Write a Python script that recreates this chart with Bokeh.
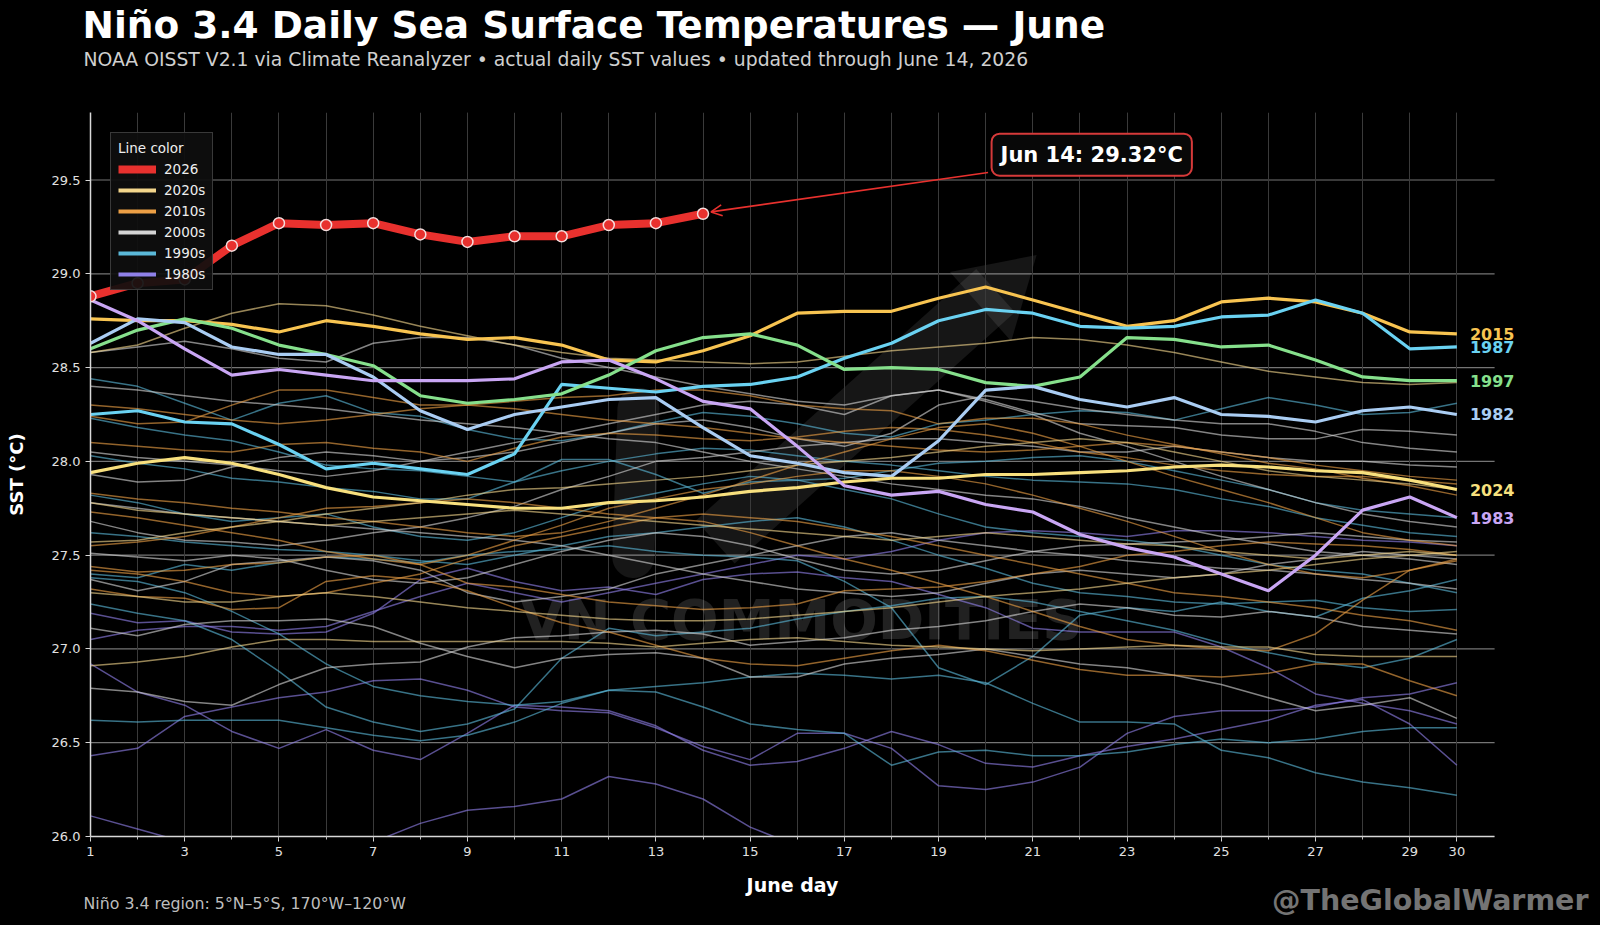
from bokeh.plotting import figure
from bokeh.layouts import column
from bokeh.models import (Range1d, FixedTicker, NumeralTickFormatter, Label, Arrow,
                          OpenHead, Legend, LegendItem, ColumnDataSource, Title)
from bokeh.embed import file_html
from bokeh.resources import INLINE
from bokeh.core.properties import value

FONT = "DejaVu Sans"

days = list(range(1, 31))
x_ticks = [1, 3, 5, 7, 9, 11, 13, 15, 17, 19, 21, 23, 25, 27, 29, 30]
y_ticks = [26.0, 26.5, 27.0, 27.5, 28.0, 28.5, 29.0, 29.5]

# ---- 2026 (through June 14) ----
sst_2026 = [28.88, 28.95, 28.97, 29.15, 29.27, 29.26, 29.27, 29.21, 29.17, 29.20,
            29.20, 29.26, 29.27, 29.32]

# ---- highlighted years ----
sst_2015 = [28.76, 28.75, 28.75, 28.73, 28.69, 28.75, 28.72, 28.68, 28.65, 28.66,
            28.62, 28.54, 28.53, 28.59, 28.67, 28.79, 28.80, 28.80, 28.87, 28.93,
            28.86, 28.79, 28.72, 28.75, 28.85, 28.87, 28.85, 28.79, 28.69, 28.68]
sst_1987 = [28.25, 28.27, 28.21, 28.20, 28.09, 27.96, 27.99, 27.96, 27.93, 28.04,
            28.41, 28.39, 28.37, 28.40, 28.41, 28.45, 28.55, 28.63, 28.75, 28.81,
            28.79, 28.72, 28.71, 28.72, 28.77, 28.78, 28.86, 28.79, 28.60, 28.61]
sst_1997 = [28.60, 28.70, 28.76, 28.71, 28.62, 28.57, 28.51, 28.35, 28.31, 28.33,
            28.36, 28.46, 28.59, 28.66, 28.68, 28.62, 28.49, 28.50, 28.49, 28.42,
            28.40, 28.45, 28.66, 28.65, 28.61, 28.62, 28.54, 28.45, 28.43, 28.43]
sst_1982 = [28.63, 28.76, 28.74, 28.61, 28.57, 28.57, 28.45, 28.27, 28.17, 28.25,
            28.29, 28.33, 28.34, 28.18, 28.03, 27.99, 27.94, 27.92, 28.11, 28.38,
            28.40, 28.33, 28.29, 28.34, 28.25, 28.24, 28.21, 28.27, 28.29, 28.25]
sst_2024 = [27.94, 27.99, 28.02, 27.99, 27.93, 27.86, 27.81, 27.79, 27.77, 27.75,
            27.75, 27.78, 27.79, 27.81, 27.84, 27.86, 27.89, 27.91, 27.91, 27.93,
            27.93, 27.94, 27.95, 27.97, 27.98, 27.97, 27.95, 27.94, 27.90, 27.85]
sst_1983 = [28.86, 28.75, 28.60, 28.46, 28.49, 28.46, 28.43, 28.43, 28.43, 28.44,
            28.53, 28.54, 28.44, 28.32, 28.28, 28.08, 27.87, 27.82, 27.84, 27.77,
            27.73, 27.61, 27.54, 27.49, 27.40, 27.31, 27.50, 27.74, 27.81, 27.70]

highlight_years = ["2015", "1987", "1997", "1982", "2024", "1983"]
highlight_colors = ["#f8c451", "#6ad2f2", "#86e08c", "#aacdf3", "#f8e07e", "#c9a6f4"]

# ---- background years ----
sst_1984 = [27.05, 27.10, 27.12, 27.12, 27.10, 27.12, 27.20, 27.28, 27.35, 27.30,
            27.25, 27.30, 27.35, 27.40, 27.45, 27.50, 27.48, 27.52, 27.58, 27.62,
            27.63, 27.62, 27.60, 27.63, 27.63, 27.62, 27.60, 27.58, 27.57, 27.55]
sst_1985 = [26.11, 26.04, 25.97, 25.92, 25.88, 25.90, 25.97, 26.07, 26.14, 26.16,
            26.20, 26.32, 26.28, 26.20, 26.05, 25.95, 25.88, 25.85, 25.84, 25.82,
            25.80, 25.80, 25.82, 25.83, 25.85, 25.84, 25.83, 25.82, 25.80, 25.80]
sst_1986 = [27.19, 27.14, 27.15, 27.09, 27.08, 27.09, 27.19, 27.37, 27.43, 27.36,
            27.31, 27.33, 27.29, 27.37, 27.40, 27.41, 27.38, 27.36, 27.29, 27.22,
            27.11, 27.09, 27.09, 27.09, 27.01, 26.90, 26.76, 26.71, 26.67, 26.60]
sst_1988 = [26.92, 26.77, 26.70, 26.56, 26.47, 26.57, 26.46, 26.41, 26.55, 26.70,
            26.69, 26.67, 26.59, 26.46, 26.38, 26.40, 26.47, 26.56, 26.49, 26.39,
            26.37, 26.43, 26.48, 26.52, 26.57, 26.62, 26.70, 26.73, 26.60, 26.38]
sst_1989 = [26.43, 26.47, 26.64, 26.69, 26.74, 26.77, 26.83, 26.84, 26.78, 26.69,
            26.67, 26.66, 26.58, 26.48, 26.41, 26.55, 26.55, 26.47, 26.27, 26.25,
            26.29, 26.37, 26.55, 26.64, 26.67, 26.67, 26.69, 26.74, 26.76, 26.82]

sst_1990 = [27.62, 27.60, 27.57, 27.55, 27.53, 27.52, 27.50, 27.47, 27.45, 27.50,
            27.55, 27.60, 27.62, 27.65, 27.68, 27.70, 27.65, 27.58, 27.50, 27.43,
            27.35, 27.30, 27.28, 27.25, 27.24, 27.25, 27.26, 27.22, 27.20, 27.21]
sst_1991 = [27.38, 27.36, 27.30, 27.20, 27.08, 26.92, 26.80, 26.75, 26.72, 26.70,
            26.72, 26.78, 26.80, 26.82, 26.85, 26.87, 26.86, 26.84, 26.86, 26.82,
            26.71, 26.61, 26.61, 26.60, 26.46, 26.42, 26.34, 26.29, 26.26, 26.22]
sst_1992 = [28.03, 27.99, 27.96, 27.91, 27.89, 27.86, 27.84, 27.80, 27.80, 27.89,
            27.95, 28.00, 28.04, 28.07, 28.06, 28.03, 28.00, 27.98, 27.95, 27.92,
            27.90, 27.89, 27.88, 27.85, 27.80, 27.76, 27.70, 27.66, 27.62, 27.60]
sst_1993 = [27.24, 27.19, 27.15, 27.05, 26.88, 26.69, 26.61, 26.56, 26.60, 26.68,
            26.95, 27.11, 27.07, 27.09, 27.11, 27.16, 27.20, 27.23, 27.27, 27.28,
            27.25, 27.20, 27.15, 27.10, 27.03, 26.98, 26.93, 26.90, 26.95, 27.05]
sst_1994 = [27.82, 27.78, 27.72, 27.68, 27.70, 27.72, 27.65, 27.60, 27.58, 27.62,
            27.70, 27.78, 27.83, 27.88, 27.92, 27.90, 27.85, 27.80, 27.72, 27.65,
            27.62, 27.60, 27.58, 27.55, 27.50, 27.45, 27.42, 27.40, 27.35, 27.30]
sst_1995 = [26.62, 26.61, 26.62, 26.62, 26.62, 26.58, 26.54, 26.51, 26.54, 26.61,
            26.71, 26.78, 26.77, 26.69, 26.60, 26.57, 26.55, 26.38, 26.45, 26.46,
            26.43, 26.43, 26.45, 26.49, 26.52, 26.50, 26.52, 26.56, 26.58, 26.58]
sst_1996 = [27.40, 27.38, 27.45, 27.42, 27.46, 27.49, 27.48, 27.46, 27.50, 27.52,
            27.53, 27.55, 27.52, 27.50, 27.49, 27.47, 27.36, 27.22, 26.90, 26.81,
            26.96, 27.18, 27.22, 27.20, 27.25, 27.20, 27.17, 27.27, 27.31, 27.37]
sst_1998 = [28.44, 28.40, 28.31, 28.22, 28.31, 28.35, 28.26, 28.24, 28.17, 28.12,
            28.11, 28.15, 28.21, 28.26, 28.24, 28.20, 28.15, 28.13, 28.20, 28.22,
            28.25, 28.27, 28.26, 28.22, 28.28, 28.34, 28.30, 28.25, 28.26, 28.31]
sst_1999 = [28.23, 28.18, 28.14, 28.11, 28.05, 27.98, 27.96, 27.95, 27.92, 27.89,
            28.01, 28.01, 27.93, 27.83, 27.89, 27.90, 27.91, 27.95, 27.99, 28.00,
            28.02, 28.03, 28.00, 27.95, 27.90, 27.85, 27.78, 27.74, 27.72, 27.70]

sst_2000 = [27.11, 27.07, 27.13, 27.15, 27.15, 27.16, 27.12, 27.03, 26.96, 26.90,
            26.95, 26.97, 26.98, 26.95, 26.85, 26.85, 26.92, 26.95, 26.97, 27.00,
            26.96, 26.92, 26.90, 26.86, 26.81, 26.74, 26.67, 26.70, 26.74, 26.63]
sst_2001 = [26.79, 26.77, 26.72, 26.70, 26.81, 26.90, 26.92, 26.93, 27.01, 27.06,
            27.07, 27.09, 27.10, 27.08, 27.02, 27.04, 27.06, 27.10, 27.12, 27.15,
            27.20, 27.24, 27.22, 27.18, 27.17, 27.20, 27.17, 27.12, 27.10, 27.08]
sst_2002 = [28.58, 28.61, 28.64, 28.60, 28.55, 28.53, 28.63, 28.66, 28.66, 28.62,
            28.55, 28.50, 28.45, 28.40, 28.36, 28.32, 28.30, 28.35, 28.38, 28.33,
            28.26, 28.20, 28.19, 28.18, 28.14, 28.12, 28.12, 28.17, 28.16, 28.14]
sst_2003 = [27.37, 27.31, 27.36, 27.45, 27.47, 27.49, 27.47, 27.42, 27.30, 27.25,
            27.28, 27.32, 27.40, 27.45, 27.50, 27.55, 27.60, 27.62, 27.58, 27.55,
            27.52, 27.50, 27.47, 27.45, 27.43, 27.42, 27.40, 27.37, 27.35, 27.32]
sst_2004 = [28.40, 28.38, 28.35, 28.32, 28.30, 28.28, 28.25, 28.22, 28.20, 28.18,
            28.15, 28.12, 28.10, 28.05, 28.00, 27.96, 27.92, 27.88, 27.85, 27.82,
            27.80, 27.76, 27.70, 27.65, 27.60, 27.56, 27.52, 27.50, 27.48, 27.45]
sst_2005 = [27.68, 27.62, 27.58, 27.57, 27.55, 27.58, 27.62, 27.65, 27.70, 27.76,
            27.85, 27.92, 28.00, 28.02, 28.05, 28.08, 28.10, 28.12, 28.12, 28.10,
            28.08, 28.05, 28.05, 28.08, 28.05, 28.02, 28.00, 28.00, 27.98, 27.97]
sst_2006 = [27.51, 27.49, 27.47, 27.50, 27.48, 27.42, 27.37, 27.35, 27.38, 27.45,
            27.52, 27.58, 27.62, 27.60, 27.55, 27.48, 27.42, 27.40, 27.42, 27.47,
            27.52, 27.55, 27.56, 27.57, 27.58, 27.60, 27.62, 27.60, 27.58, 27.57]
sst_2007 = [27.78, 27.75, 27.72, 27.70, 27.68, 27.66, 27.64, 27.62, 27.60, 27.58,
            27.55, 27.50, 27.45, 27.40, 27.36, 27.32, 27.30, 27.28, 27.30, 27.35,
            27.40, 27.42, 27.40, 27.38, 27.40, 27.45, 27.48, 27.52, 27.50, 27.48]
sst_2008 = [27.93, 27.89, 27.90, 27.97, 28.02, 28.05, 28.03, 28.00, 28.02, 28.05,
            28.10, 28.15, 28.20, 28.22, 28.18, 28.12, 28.08, 28.15, 28.30, 28.35,
            28.32, 28.28, 28.25, 28.22, 28.20, 28.20, 28.16, 28.10, 28.07, 28.05]
sst_2009 = [28.05, 28.02, 28.00, 27.98, 27.95, 27.92, 27.95, 28.00, 28.05, 28.10,
            28.15, 28.20, 28.25, 28.30, 28.32, 28.30, 28.25, 28.35, 28.38, 28.32,
            28.25, 28.15, 28.08, 28.00, 27.92, 27.85, 27.78, 27.72, 27.68, 27.65]

sst_2010 = [28.10, 28.08, 28.06, 28.05, 28.09, 28.10, 28.07, 28.05, 28.00, 28.07,
            28.13, 28.15, 28.14, 28.12, 28.11, 28.13, 28.16, 28.18, 28.17, 28.14,
            28.10, 28.05, 28.02, 27.98, 27.95, 27.93, 27.92, 27.92, 27.90, 27.88]
sst_2011 = [27.32, 27.28, 27.27, 27.21, 27.22, 27.36, 27.39, 27.37, 27.31, 27.22,
            27.14, 27.09, 27.02, 26.95, 26.92, 26.91, 26.95, 26.99, 27.02, 26.99,
            26.94, 26.89, 26.86, 26.86, 26.85, 26.87, 26.92, 26.92, 26.83, 26.75]
sst_2012 = [27.83, 27.80, 27.78, 27.75, 27.73, 27.70, 27.68, 27.65, 27.62, 27.60,
            27.62, 27.68, 27.75, 27.82, 27.90, 27.98, 28.05, 28.12, 28.18, 28.20,
            28.15, 28.08, 28.00, 27.92, 27.85, 27.78, 27.70, 27.62, 27.58, 27.55]
sst_2013 = [27.44, 27.41, 27.42, 27.45, 27.46, 27.49, 27.50, 27.45, 27.35, 27.33,
            27.29, 27.25, 27.23, 27.21, 27.22, 27.24, 27.31, 27.32, 27.33, 27.36,
            27.40, 27.44, 27.50, 27.52, 27.55, 27.57, 27.56, 27.55, 27.53, 27.50]
sst_2014 = [28.24, 28.20, 28.21, 28.30, 28.38, 28.38, 28.34, 28.30, 28.30, 28.32,
            28.34, 28.35, 28.38, 28.38, 28.35, 28.30, 28.28, 28.27, 28.20, 28.23,
            28.23, 28.20, 28.14, 28.09, 28.04, 27.99, 27.96, 27.91, 27.87, 27.82]
sst_2016 = [27.73, 27.70, 27.66, 27.62, 27.58, 27.52, 27.48, 27.45, 27.50, 27.58,
            27.66, 27.75, 27.80, 27.85, 27.88, 27.92, 27.95, 27.95, 27.92, 27.88,
            27.82, 27.75, 27.68, 27.60, 27.52, 27.45, 27.40, 27.38, 27.42, 27.48]
sst_2017 = [27.55, 27.57, 27.60, 27.65, 27.70, 27.75, 27.76, 27.78, 27.80, 27.78,
            27.75, 27.72, 27.70, 27.68, 27.62, 27.55, 27.48, 27.42, 27.35, 27.28,
            27.20, 27.12, 27.05, 27.02, 27.00, 26.99, 27.08, 27.26, 27.42, 27.47]
sst_2018 = [27.42, 27.40, 27.36, 27.30, 27.28, 27.30, 27.35, 27.40, 27.48, 27.55,
            27.60, 27.65, 27.70, 27.72, 27.70, 27.68, 27.64, 27.60, 27.55, 27.50,
            27.45, 27.40, 27.35, 27.30, 27.28, 27.25, 27.22, 27.18, 27.15, 27.10]
sst_2019 = [28.30, 28.28, 28.25, 28.22, 28.20, 28.22, 28.25, 28.28, 28.30, 28.28,
            28.25, 28.22, 28.20, 28.18, 28.15, 28.12, 28.10, 28.08, 28.06, 28.05,
            28.06, 28.08, 28.10, 28.08, 28.05, 28.02, 27.98, 27.95, 27.92, 27.90]

sst_2020 = [27.57, 27.58, 27.62, 27.65, 27.68, 27.72, 27.75, 27.78, 27.82, 27.85,
            27.86, 27.88, 27.90, 27.92, 27.95, 27.98, 28.00, 28.02, 28.05, 28.08,
            28.10, 28.12, 28.10, 28.05, 28.00, 27.95, 27.92, 27.90, 27.88, 27.85]
sst_2021 = [26.91, 26.93, 26.96, 27.01, 27.05, 27.05, 27.04, 27.04, 27.04, 27.04,
            27.04, 27.03, 27.01, 27.03, 27.05, 27.06, 27.04, 27.02, 27.01, 27.00,
            26.99, 27.00, 27.01, 27.02, 27.01, 27.01, 26.97, 26.96, 26.96, 26.96]
sst_2022 = [27.30, 27.28, 27.25, 27.25, 27.28, 27.30, 27.28, 27.25, 27.22, 27.20,
            27.18, 27.16, 27.15, 27.15, 27.16, 27.18, 27.20, 27.22, 27.25, 27.28,
            27.30, 27.32, 27.35, 27.38, 27.40, 27.42, 27.45, 27.48, 27.50, 27.52]
sst_2023 = [28.58, 28.62, 28.71, 28.79, 28.84, 28.83, 28.78, 28.72, 28.67, 28.62,
            28.58, 28.55, 28.54, 28.53, 28.52, 28.53, 28.56, 28.59, 28.61, 28.63,
            28.66, 28.65, 28.62, 28.58, 28.53, 28.48, 28.45, 28.42, 28.41, 28.42]
sst_2025 = [27.78, 27.74, 27.72, 27.70, 27.68, 27.66, 27.68, 27.70, 27.72, 27.74,
            27.72, 27.70, 27.68, 27.66, 27.64, 27.62, 27.60, 27.58, 27.60, 27.62,
            27.60, 27.58, 27.56, 27.55, 27.52, 27.50, 27.48, 27.50, 27.52, 27.50]

background = [
    (1984, sst_1984), (1985, sst_1985), (1986, sst_1986), (1988, sst_1988), (1989, sst_1989),
    (1990, sst_1990), (1991, sst_1991), (1992, sst_1992), (1993, sst_1993), (1994, sst_1994),
    (1995, sst_1995), (1996, sst_1996), (1998, sst_1998), (1999, sst_1999),
    (2000, sst_2000), (2001, sst_2001), (2002, sst_2002), (2003, sst_2003), (2004, sst_2004),
    (2005, sst_2005), (2006, sst_2006), (2007, sst_2007), (2008, sst_2008), (2009, sst_2009),
    (2010, sst_2010), (2011, sst_2011), (2012, sst_2012), (2013, sst_2013), (2014, sst_2014),
    (2016, sst_2016), (2017, sst_2017), (2018, sst_2018), (2019, sst_2019),
    (2020, sst_2020), (2021, sst_2021), (2022, sst_2022), (2023, sst_2023), (2025, sst_2025),
]
highlights = [sst_2015, sst_1987, sst_1997, sst_1982, sst_2024, sst_1983]

decades = ["2020s", "2010s", "2000s", "1990s", "1980s"]
decade_colors = ["#f3d68c", "#ec9f45", "#d4d4d4", "#5ab8d8", "#8f80e8"]
color_of = dict(zip(decades, decade_colors))

RED = "#e8312e"
X_END = 31.35        # frame end (room for the end labels)
GRID_END = 30.8      # where grid lines / x axis line stop

W, H_MAIN, H_FOOT = 1600, 866, 59
BORDER_L, BORDER_R = 90, 80

p = figure(width=W, height=H_MAIN, x_range=Range1d(1, X_END), y_range=Range1d(26.0, 29.86),
           output_backend="svg", toolbar_location=None, title=None,
           background_fill_color="black", border_fill_color="black",
           min_border_left=BORDER_L, min_border_right=BORDER_R, min_border_top=112,
           min_border_bottom=30, outline_line_color=None)
p.frame_align = False

# grids
p.ygrid.grid_line_color = None
p.segment(x0=[days[0]] * len(y_ticks), y0=y_ticks, x1=[GRID_END] * len(y_ticks), y1=y_ticks,
          line_color="#8a8a8a", line_width=1.2, line_alpha=0.85, level="underlay")
p.xgrid.grid_line_color = "#3a3a3a"
p.xgrid.minor_grid_line_color = "#3a3a3a"
p.xgrid.grid_line_width = 1

# axes
p.xaxis.ticker = FixedTicker(ticks=x_ticks, minor_ticks=days)
p.xaxis.bounds = (days[0], GRID_END)
p.yaxis.ticker = FixedTicker(ticks=y_ticks)
p.yaxis.formatter = NumeralTickFormatter(format="0.0")
for ax in (p.xaxis[0], p.yaxis[0]):
    ax.axis_line_color = "#d8d8d8"
    ax.axis_line_width = 1.5
    ax.major_tick_line_color = "#d8d8d8"
    ax.major_tick_out = 5
    ax.major_tick_in = 0
    ax.minor_tick_line_color = "#bbbbbb"
    ax.minor_tick_out = 3
    ax.minor_tick_in = 0
    ax.major_label_text_color = "#e0e0e0"
    ax.major_label_text_font = FONT
    ax.major_label_text_font_size = "13px"
    ax.axis_label_text_color = "white"
    ax.axis_label_text_font = FONT
    ax.axis_label_text_font_style = "bold"
    ax.axis_label_text_font_size = "18px"
p.yaxis.minor_tick_line_color = None
p.yaxis.axis_label = "SST (°C)"
p.yaxis.axis_label_standoff = 22

# titles, stacked upward from the frame: spacer, subtitle, title
p.add_layout(Title(text=" ", text_font=FONT, text_font_size="10px", text_color="black",
                   standoff=30), "above")
p.add_layout(Title(text="NOAA OISST V2.1 via Climate Reanalyzer • actual daily SST values • updated through June 14, 2026",
                   text_font=FONT, text_font_size="18.8px", text_font_style="normal",
                   text_color="#cfcfcf", align="left", offset=-7, standoff=0), "above")
p.add_layout(Title(text="Niño 3.4 Daily Sea Surface Temperatures — June",
                   text_font=FONT, text_font_size="37.5px", text_font_style="bold",
                   text_color="white", align="left", offset=-8, standoff=0), "above")

# watermark logo + text (faint decoration behind the lines)
LOGO_ALPHA = 0.085
p.line([14.26, 20.21], [27.57, 28.91], line_color="white", line_alpha=LOGO_ALPHA,
       line_width=58, level="underlay")
p.patch([21.08, 20.54, 19.24], [29.10, 28.64, 29.01], fill_color="white",
        fill_alpha=LOGO_ALPHA, line_color=None, level="underlay")
p.line([12.52, 12.63], [27.49, 28.28], line_color="white", line_alpha=LOGO_ALPHA,
       line_width=42, line_cap="round", level="underlay")
p.add_layout(Label(x=711, y=217, x_units="screen", y_units="screen", text="VN COMMODITIES",
                   text_font=FONT, text_font_size="56px", text_font_style="bold",
                   text_color="#ffffff", text_alpha=0.13, text_align="center",
                   text_baseline="middle", level="underlay"))

# background years
for year, vals in background:
    dec = f"{year // 10 * 10}s"
    p.line(days, vals, line_color=color_of[dec], line_width=1.5, line_alpha=0.62)

# highlighted years
for yr, vals, col in zip(highlight_years, highlights, highlight_colors):
    p.line(days, vals, line_color=col, line_width=3.2, line_alpha=1.0)

end_src = ColumnDataSource(dict(x=[days[-1]] * len(highlights),
                                y=[v[-1] for v in highlights],
                                label=highlight_years, color=highlight_colors))
p.text(x="x", y="y", text="label", text_color="color", source=end_src, x_offset=13,
       text_font=value(FONT), text_font_size="16px", text_font_style="bold",
       text_baseline="middle", text_align="left")

# 2026
days_2026 = days[:len(sst_2026)]
r2026 = p.line(days_2026, sst_2026, line_color=RED, line_width=8, line_join="round")
p.scatter(days_2026, sst_2026, size=11, fill_color=RED, line_color="#f4dede", line_width=1.5)

last_day, last_val = days_2026[-1], sst_2026[-1]
p.add_layout(Arrow(end=OpenHead(size=11, line_color=RED, line_width=1.6),
                   x_start=20.05, y_start=29.54, x_end=last_day + 0.17, y_end=last_val + 0.01,
                   line_color=RED, line_width=1.6))
p.add_layout(Label(x=22.25, y=29.635, text=f"Jun {last_day}: {last_val:.2f}°C",
                   text_font=FONT, text_font_size="21px", text_font_style="bold",
                   text_color="white", text_align="center", text_baseline="middle",
                   background_fill_color="#080808", background_fill_alpha=1.0,
                   border_line_color="#d63a3a", border_line_width=2,
                   padding=9, border_radius=8))

# legend (decade swatches use off-range dummy lines)
items = [LegendItem(label="2026", renderers=[r2026])]
for dec, col in zip(decades, decade_colors):
    r = p.line(days[:2], [0.0, 0.0], line_color=col, line_width=4)
    items.append(LegendItem(label=dec, renderers=[r]))
legend = Legend(items=items, location="top_left", title="Line color")
legend.margin = 20
legend.padding = 7
legend.spacing = 5
legend.label_height = 16
legend.glyph_height = 16
legend.glyph_width = 38
legend.label_standoff = 8
legend.label_text_font = FONT
legend.label_text_font_size = "13.5px"
legend.label_text_color = "#eeeeee"
legend.title_text_font = FONT
legend.title_text_font_size = "13.5px"
legend.title_text_font_style = "normal"
legend.title_text_color = "#eeeeee"
legend.title_standoff = 5
legend.background_fill_color = "#0e0e0e"
legend.background_fill_alpha = 0.92
legend.border_line_color = "#666666"
legend.border_line_width = 1
p.add_layout(legend)

# ---- footer strip: x-axis title, region note, handle ----
foot = figure(width=W, height=H_FOOT, x_range=Range1d(0, W), y_range=Range1d(0, H_FOOT),
              output_backend="svg", toolbar_location=None, title=None,
              x_axis_type=None, y_axis_type=None,
              min_border=0, min_border_left=0, min_border_right=0,
              min_border_top=0, min_border_bottom=0,
              background_fill_color="black", border_fill_color="black",
              outline_line_color=None)
foot.frame_align = False
px_per_day = (W - BORDER_L - BORDER_R) / (X_END - 1)
center_x = BORDER_L + (GRID_END - 1) * px_per_day / 2
foot.text(x=[center_x], y=[H_FOOT - 18], text=["June day"], text_font=value(FONT),
          text_font_size="19px", text_font_style="bold", text_color="white",
          text_align="center", text_baseline="middle")
foot.text(x=[83], y=[22], text=["Niño 3.4 region: 5°N–5°S, 170°W–120°W"], text_font=value(FONT),
          text_font_size="15.8px", text_color="#bdbdbd", text_align="left",
          text_baseline="alphabetic")
foot.text(x=[1588], y=[25], text=["@TheGlobalWarmer"], text_font=value(FONT),
          text_font_size="28.5px", text_font_style="bold", text_color="#747474",
          text_align="right", text_baseline="alphabetic")

layout = column(p, foot, spacing=0, styles={"background-color": "black"})
open("out.html", "w").write(file_html(layout, INLINE))
